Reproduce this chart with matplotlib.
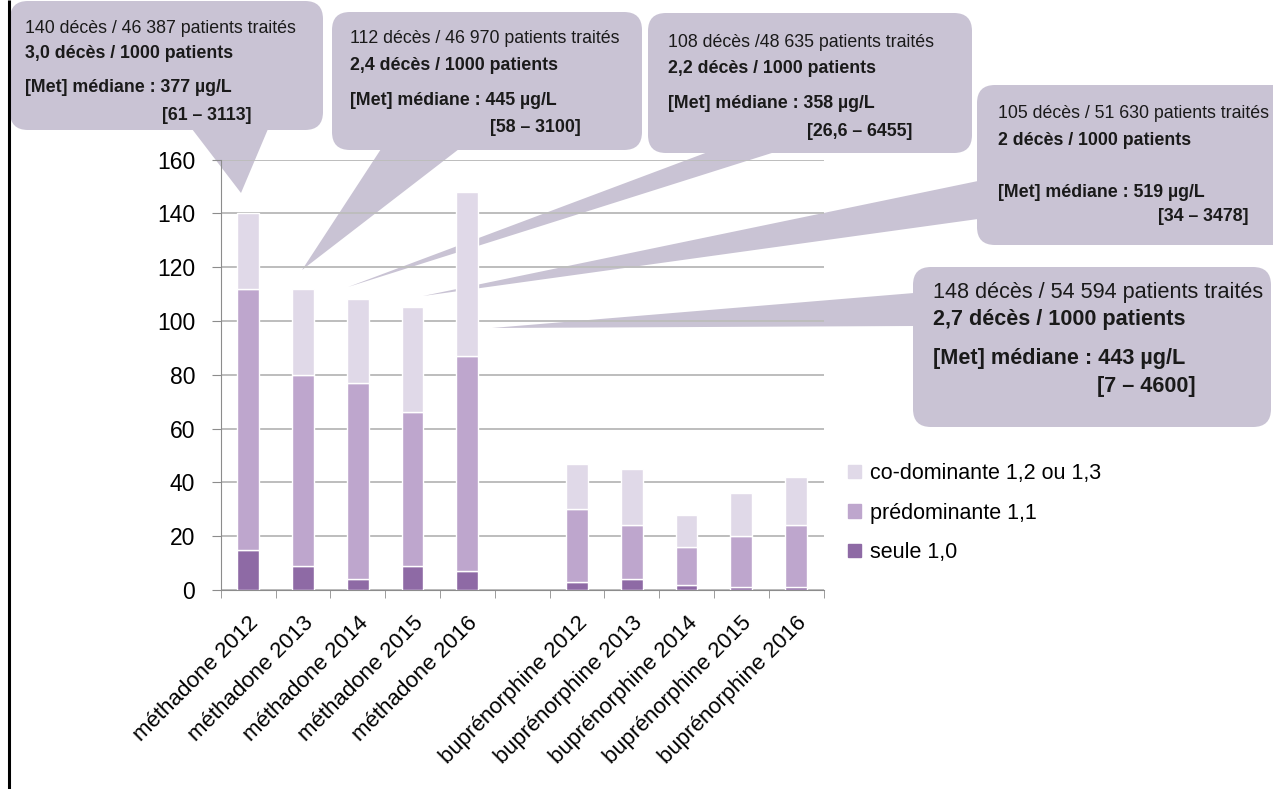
import matplotlib
matplotlib.use("Agg")
import matplotlib.pyplot as plt
from matplotlib.patches import FancyBboxPatch, Polygon, Patch
import numpy as np

FONT = ["Liberation Sans", "DejaVu Sans"]
plt.rcParams["font.family"] = FONT

# ---------------- data ----------------
labels_met = ["méthadone 2012", "méthadone 2013", "méthadone 2014", "méthadone 2015", "méthadone 2016"]
labels_bup = ["buprénorphine 2012", "buprénorphine 2013", "buprénorphine 2014", "buprénorphine 2015", "buprénorphine 2016"]
seule = [15, 9, 4, 9, 7, 3, 4, 2, 1, 1]
predominante = [97, 71, 73, 57, 80, 27, 20, 14, 19, 23]
codominante = [28, 32, 31, 39, 61, 17, 21, 12, 16, 18]
series_names = ["seule 1,0", "prédominante 1,1", "co-dominante 1,2 ou 1,3"]
yticks = [0, 20, 40, 60, 80, 100, 120, 140, 160]

callout_lines = [
    ["140 décès / 46 387 patients traités", "3,0 décès / 1000 patients", "[Met] médiane : 377 µg/L", "[61 – 3113]"],
    ["112 décès / 46 970 patients traités", "2,4 décès / 1000 patients", "[Met] médiane : 445 µg/L", "[58 – 3100]"],
    ["108 décès /48 635 patients traités", "2,2 décès / 1000 patients", "[Met] médiane : 358 µg/L", "[26,6 – 6455]"],
    ["105 décès / 51 630 patients traités", "2 décès / 1000 patients", "[Met] médiane : 519 µg/L", "[34 – 3478]"],
    ["148 décès / 54 594 patients traités", "2,7 décès / 1000 patients", "[Met] médiane : 443 µg/L", "[7 – 4600]"],
]

# ---------------- style ----------------
c_seule = "#8E6AA5"
c_pred = "#BEA6CD"
c_co = "#E0D9E8"
c_box = "#C9C3D4"
grid_c = "#BDBDBD"
axis_c = "#8C8C8C"

W, H = 1273, 789
fig = plt.figure(figsize=(W / 100, H / 100), dpi=100)
fig.patch.set_facecolor("white")

# overlay (pixel coords) for callouts, behind the chart
ov = fig.add_axes([0, 0, 1, 1], zorder=0)
ov.set_xlim(0, W)
ov.set_ylim(H, 0)
ov.axis("off")

ax = fig.add_axes([220.7 / W, 1 - 590 / H, (823.5 - 220.7) / W, (590 - 159.5) / H], zorder=1)
ax.patch.set_alpha(0)

# positions: two groups separated by one empty slot
n_met, n_bup = len(labels_met), len(labels_bup)
x = np.r_[np.arange(n_met), np.arange(n_bup) + n_met + 1]
labels = labels_met + labels_bup
s = np.array(seule)
p = np.array(predominante)
c = np.array(codominante)
bw = 0.40
kw = dict(width=bw, edgecolor="white", linewidth=1.0, zorder=3)
b1 = ax.bar(x, s, color=c_seule, **kw)
b2 = ax.bar(x, p, bottom=s, color=c_pred, **kw)
b3 = ax.bar(x, c, bottom=s + p, color=c_co, **kw)

ax.set_xlim(-0.5, n_met + n_bup + 0.5)
ax.set_ylim(0, 160)
ax.set_yticks(yticks)
ax.yaxis.grid(True, color=grid_c, linewidth=1.4, zorder=0)
ax.set_axisbelow(True)
for sp in ["top", "right"]:
    ax.spines[sp].set_visible(False)
ax.spines["left"].set_color(axis_c)
ax.spines["bottom"].set_color(axis_c)
ax.tick_params(axis="y", length=6.5, color=axis_c, pad=12, labelsize=16.5)
ax.set_xticks(x)
ax.set_xticklabels(labels, rotation=45, ha="right", rotation_mode="anchor", fontsize=16)
ax.tick_params(axis="x", which="major", length=0, pad=16)
ax.set_xticks(np.arange(-0.5, n_met + n_bup + 1), minor=True)
ax.tick_params(axis="x", which="minor", length=6, color=axis_c)

# legend
handles = [Patch(color=c_co), Patch(color=c_pred), Patch(color=c_seule)]
leg = ax.legend(handles, series_names[::-1], loc="upper left",
                bbox_to_anchor=(848 / W, 1 - 463 / H), bbox_transform=fig.transFigure,
                frameon=False, fontsize=15.5, handlelength=0.6, handleheight=0.6,
                handletextpad=0.4, labelspacing=0.86, borderpad=0, borderaxespad=0)

# ---------------- callouts (layout in pixels) ----------------
boxes = [
    (10, 1, 323, 130),
    (332, 12, 642, 150),
    (648, 13, 972, 153),
    (977, 85, 1290, 245),
    (913, 267, 1271, 427),
]
wedges = [
    [(192, 129), (268, 129), (241, 193)],
    [(381, 149), (459, 149), (302, 270)],
    [(708, 152), (775, 152), (348, 287)],
    [(978, 181), (978, 219), (423, 296)],
    [(914, 293), (914, 326), (492, 328)],
]
text_x = [25, 350, 668, 998, 933]
text_x4 = [162, 490, 807, 1158, 1097]
text_y = [
    [28, 53, 87, 115],
    [38, 65, 100, 127],
    [42, 68, 103, 131],
    [113, 140, 192, 216],
    [292, 319, 358, 386],
]
fsz = [12.8, 12.8, 12.8, 12.8, 15.6]

for (x0, y0, x1, y1), wdg in zip(boxes, wedges):
    ov.add_patch(FancyBboxPatch((x0, y0), x1 - x0, y1 - y0,
                                boxstyle="round,pad=0,rounding_size=18",
                                facecolor=c_box, edgecolor="none", zorder=1))
    ov.add_patch(Polygon(wdg, closed=True, facecolor=c_box, edgecolor="none", zorder=1))

for i, lines in enumerate(callout_lines):
    ty = text_y[i]
    for j, line in enumerate(lines):
        xx = text_x4[i] if j == 3 else text_x[i]
        ov.text(xx, ty[j], line, fontsize=fsz[i], va="center", ha="left",
                fontweight="normal" if j == 0 else "bold", color="#1a1a1a", zorder=2)

# left frame line
ov.plot([8.5, 8.5], [0, H], color="black", linewidth=2.2, zorder=3, solid_capstyle="butt")

fig.savefig("out.png", dpi=100)
